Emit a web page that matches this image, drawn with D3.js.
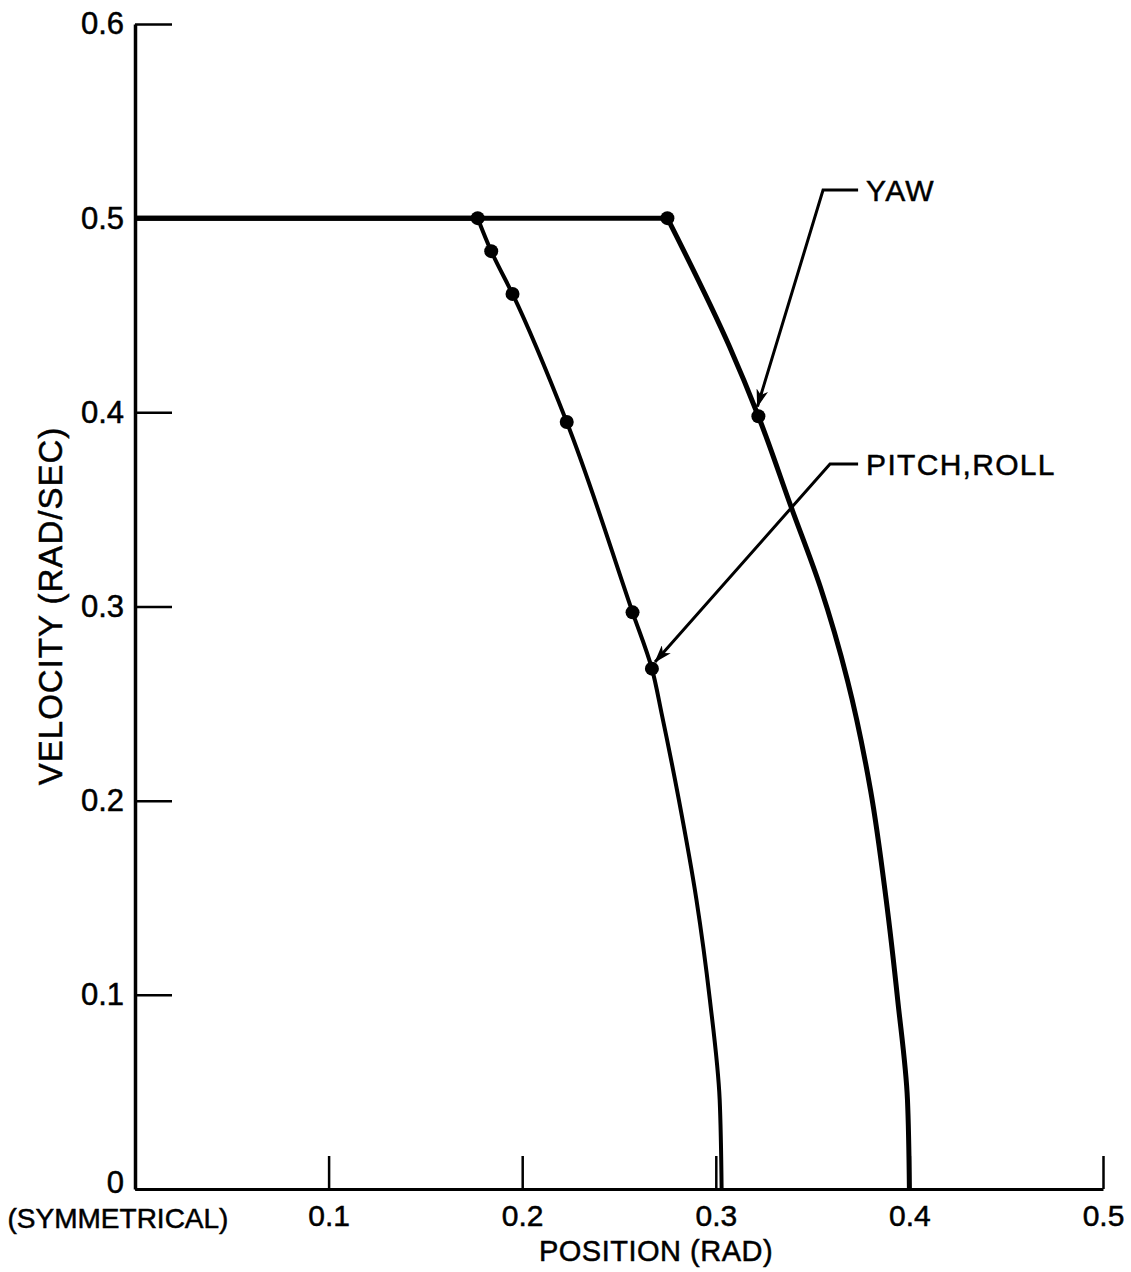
<!DOCTYPE html>
<html>
<head>
<meta charset="utf-8">
<script src="https://cdn.jsdelivr.net/npm/d3@7"></script>
<style>
  html, body { margin: 0; padding: 0; background: #fff; }
  svg { display: block; }
</style>
</head>
<body>
<div id="chart"></div>
<script>
// axis ticks
const xTicks = [0.1, 0.2, 0.3, 0.4, 0.5];
const xTickLabels = ["0.1", "0.2", "0.3", "0.4", "0.5"];
const yTicks = [0, 0.1, 0.2, 0.3, 0.4, 0.5, 0.6];
const yTickLabels = ["0", "0.1", "0.2", "0.3", "0.4", "0.5", "0.6"];

// pitch/roll limit curve (position rad, velocity rad/s)
const pitchPos = [0, 0.177, 0.184, 0.195, 0.223, 0.257, 0.267, 0.272, 0.281, 0.290, 0.297, 0.302, 0.303];
const pitchVel = [0.5, 0.5, 0.483, 0.461, 0.395, 0.297, 0.268, 0.245, 0.200, 0.149, 0.097, 0.046, 0];
const pitchDots = [1, 2, 3, 4, 5, 6];

// yaw limit curve
const yawPos = [0, 0.275, 0.307, 0.322, 0.339, 0.354, 0.368, 0.380, 0.388, 0.394, 0.399, 0.400];
const yawVel = [0.5, 0.5, 0.434, 0.398, 0.351, 0.310, 0.262, 0.205, 0.149, 0.097, 0.046, 0];
const yawDots = [1, 3];

// callouts: label, tip, elbow, end of shoulder
const calloutLabels = ["YAW", "PITCH,ROLL"];
const calloutTip = [[0.3215, 0.403], [0.2686, 0.2714]];
const calloutElbow = [[0.3554, 0.5145], [0.359, 0.3734]];
const calloutEnd = [[0.3735, 0.5145], [0.3735, 0.3734]];

const W = 1131, H = 1272;
const FONT = "'Liberation Sans', Arial, sans-serif";

const svg = d3.select("#chart").append("svg")
    .attr("width", W)
    .attr("height", H)
    .style("background", "#fff");

const x = d3.scaleLinear().domain([0, 0.5]).range([135, 1103]);
const y = d3.scaleLinear().domain([0, 0.6]).range([1189, 24]);

// -------- arrow marker --------
svg.append("defs").append("marker")
    .attr("id", "arrow")
    .attr("markerUnits", "userSpaceOnUse")
    .attr("viewBox", "0 0 18 12")
    .attr("refX", 17)
    .attr("refY", 6)
    .attr("markerWidth", 18)
    .attr("markerHeight", 12)
    .attr("orient", "auto")
    .append("path")
    .attr("d", "M0,0 L18,6 L0,12 L5,6 Z")
    .attr("fill", "#000");

// -------- Y axis --------
const yAxis = svg.append("g")
    .attr("transform", `translate(${x(0)},0)`)
    .call(d3.axisLeft(y)
        .tickValues(yTicks)
        .tickFormat((d, i) => yTickLabels[i])
        .tickSizeInner(-37)
        .tickSizeOuter(0)
        .tickPadding(11));
yAxis.select(".domain").attr("stroke-width", 3.5);
yAxis.selectAll(".tick line").attr("stroke-width", 2.5);
yAxis.selectAll(".tick text")
    .attr("font-family", FONT)
    .attr("font-size", 31)
    .attr("stroke", "#000")
    .attr("stroke-width", 0.5)
    .attr("fill", "#000")
    .attr("dy", d => d === 0 ? "0.12em" : "0.32em");

// -------- X axis --------
const xAxis = svg.append("g")
    .attr("transform", `translate(0,${y(0)})`)
    .call(d3.axisBottom(x)
        .tickValues(xTicks)
        .tickFormat((d, i) => xTickLabels[i])
        .tickSizeInner(-33)
        .tickSizeOuter(0)
        .tickPadding(16));
xAxis.select(".domain").attr("stroke-width", 3);
xAxis.selectAll(".tick line").attr("stroke-width", 2.5);
xAxis.selectAll(".tick text")
    .attr("font-family", FONT)
    .attr("font-size", 30)
    .attr("stroke", "#000")
    .attr("stroke-width", 0.5)
    .attr("fill", "#000");

svg.append("text")
    .attr("x", x(0) - 17)
    .attr("y", y(0) + 39)
    .attr("text-anchor", "middle")
    .attr("font-family", FONT)
    .attr("font-size", 28)
    .attr("stroke", "#000")
    .attr("stroke-width", 0.5)
    .text("(SYMMETRICAL)");

// axis titles
svg.append("text")
    .attr("x", 656)
    .attr("y", 1261)
    .attr("text-anchor", "middle")
    .attr("font-family", FONT)
    .attr("font-size", 29)
    .attr("letter-spacing", 0.5)
    .attr("stroke", "#000")
    .attr("stroke-width", 0.5)
    .text("POSITION (RAD)");

svg.append("text")
    .attr("transform", "translate(62,606) rotate(-90)")
    .attr("text-anchor", "middle")
    .attr("font-family", FONT)
    .attr("font-size", 33)
    .attr("letter-spacing", 1)
    .attr("stroke", "#000")
    .attr("stroke-width", 0.5)
    .text("VELOCITY (RAD/SEC)");

// -------- curves --------
function drawCurve(pos, vel, dots, width) {
    const pts = pos.map((p, i) => [p, vel[i]]);
    // flat 0.5 rad/s segment
    svg.append("path")
        .attr("d", d3.line().x(d => x(d[0])).y(d => y(d[1]))(pts.slice(0, 2)))
        .attr("fill", "none")
        .attr("stroke", "#000")
        .attr("stroke-width", 5);
    // descending part
    svg.append("path")
        .attr("d", d3.line().x(d => x(d[0])).y(d => y(d[1]))
            .curve(d3.curveMonotoneY)(pts.slice(1)))
        .attr("fill", "none")
        .attr("stroke", "#000")
        .attr("stroke-width", width)
        .attr("stroke-linejoin", "round");
    svg.append("g")
        .selectAll("circle")
        .data(dots.map(i => pts[i]))
        .join("circle")
        .attr("cx", d => x(d[0]))
        .attr("cy", d => y(d[1]))
        .attr("r", 7)
        .attr("fill", "#000");
}

drawCurve(pitchPos, pitchVel, pitchDots, 4);
drawCurve(yawPos, yawVel, yawDots, 5);

// -------- callouts --------
calloutLabels.forEach((label, i) => {
    const [ex, ey] = calloutEnd[i];
    const [bx, by] = calloutElbow[i];
    const [tx, ty] = calloutTip[i];
    svg.append("path")
        .attr("d", `M${x(ex)},${y(ey)} L${x(bx)},${y(by)} L${x(tx)},${y(ty)}`)
        .attr("fill", "none")
        .attr("stroke", "#000")
        .attr("stroke-width", 3)
        .attr("marker-end", "url(#arrow)");
    svg.append("text")
        .attr("x", x(ex) + 8)
        .attr("y", y(ey))
        .attr("dy", "0.36em")
        .attr("font-family", FONT)
        .attr("font-size", 30)
        .attr("letter-spacing", 1.3)
        .attr("stroke", "#000")
        .attr("stroke-width", 0.5)
        .text(label);
});
</script>
</body>
</html>
